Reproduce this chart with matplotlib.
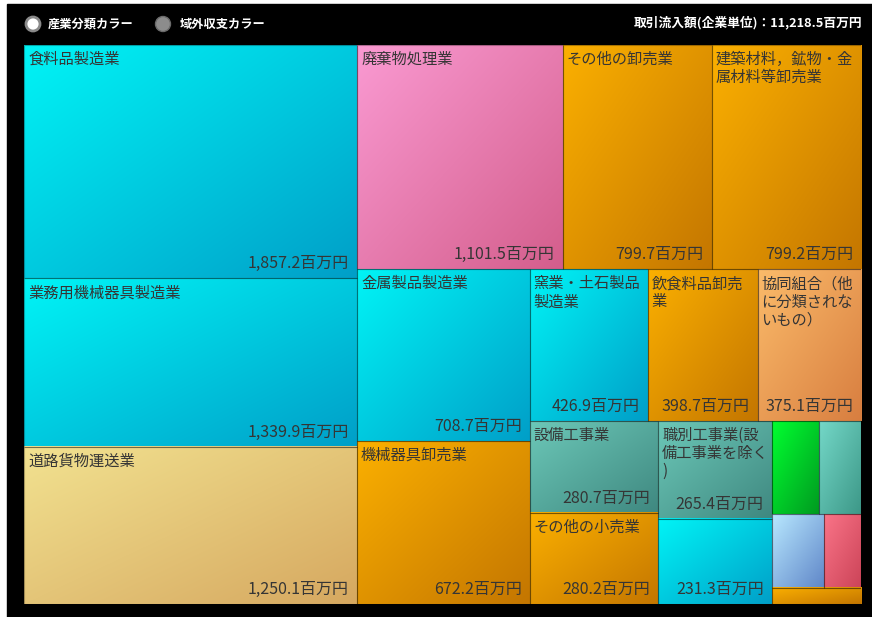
import numpy as np
import matplotlib.pyplot as plt
from matplotlib.patches import Rectangle, Circle
from matplotlib.colors import to_rgb

plt.rcParams['font.family'] = ['Noto Sans CJK JP', 'DejaVu Sans']

# data (百万円)
industries = ['食料品製造業', '業務用機械器具製造業', '道路貨物運送業', '廃棄物処理業',
              'その他の卸売業', '建築材料，鉱物・金属材料等卸売業', '金属製品製造業',
              '機械器具卸売業', '窯業・土石製品製造業', '飲食料品卸売業',
              '協同組合（他に分類されないもの）', '設備工事業', 'その他の小売業',
              '職別工事業(設備工事業を除く)', '', '', '', '', '', '']
values = [1857.2, 1339.9, 1250.1, 1101.5, 799.7, 799.2, 708.7, 672.2, 426.9, 398.7,
          375.1, 280.7, 280.2, 265.4, 231.3, 105.0, 93.0, 92.0, 65.0, 35.0]
groups = ['mfg', 'mfg', 'transport', 'waste', 'trade', 'trade', 'mfg', 'trade', 'mfg',
          'trade', 'coop', 'construction', 'trade', 'construction', 'mfg', 'agri',
          'service', 'info', 'medical', 'trade']
total_inflow = 11218.5
legend_items = ['産業分類カラー', '域外収支カラー']

# gradient colours per industry group (top-left, bottom-right)
palette = {
    'mfg': ('#00f4f6', '#009fc8'),
    'transport': ('#f2e290', '#d6a860'),
    'waste': ('#fa9ad2', '#d45e8c'),
    'trade': ('#fbb000', '#c47600'),
    'coop': ('#fbbb6a', '#d87e40'),
    'construction': ('#6cc8b8', '#3f8880'),
    'agri': ('#00ff30', '#009a20'),
    'service': ('#74d8c8', '#3d9888'),
    'info': ('#b8e8ff', '#5f86c8'),
    'medical': ('#fa7488', '#cc4458'),
}

PHI = (1 + 5 ** 0.5) / 2


def squarify(vals, x0, y0, x1, y1, ratio=PHI):
    # same idea as d3.treemapSquarify
    rects = []
    value = sum(vals)
    n = len(vals)
    i0 = 0
    while i0 < n:
        dx, dy = x1 - x0, y1 - y0
        i1 = i0 + 1
        sum_v = min_v = max_v = vals[i0]
        alpha = max(dy / dx, dx / dy) / (value * ratio)
        beta = sum_v * sum_v * alpha
        min_ratio = max(max_v / beta, beta / min_v)
        while i1 < n:
            v = vals[i1]
            s = sum_v + v
            mn, mx = min(min_v, v), max(max_v, v)
            beta = s * s * alpha
            new_ratio = max(mx / beta, beta / mn)
            if new_ratio > min_ratio:
                break
            sum_v, min_v, max_v, min_ratio = s, mn, mx, new_ratio
            i1 += 1
        row = vals[i0:i1]
        if dx < dy:
            h = dy * sum_v / value
            xx = x0
            for v in row:
                w = dx * v / sum_v
                rects.append((xx, y0, w, h))
                xx += w
            y0 += h
        else:
            w = dx * sum_v / value
            yy = y0
            for v in row:
                h = dy * v / sum_v
                rects.append((x0, yy, w, h))
                yy += h
            x0 += w
        value -= sum_v
        i0 = i1
    return rects


def wrap(text, width):
    n = max(1, int((width - 8) // 15))
    return '\n'.join(text[i:i + n] for i in range(0, len(text), n))


def gradient(c1, c2, size=64):
    a, b = np.array(to_rgb(c1)), np.array(to_rgb(c2))
    u = np.linspace(0, 1, size)
    t = (u[None, :] + u[:, None]) / 2
    return a[None, None, :] * (1 - t[..., None]) + b[None, None, :] * t[..., None]


W, H = 872, 617
fig = plt.figure(figsize=(W / 100, H / 100), dpi=100, facecolor='white')

# background / header layer in pixel units
bg = fig.add_axes([0, 0, 1, 1])
bg.set_xlim(0, W)
bg.set_ylim(H, 0)
bg.axis('off')
bg.add_patch(Rectangle((7, 4), W, H, color='black'))
bg.add_patch(Circle((33, 24), 7, facecolor='white', edgecolor='#8a8a8a', lw=2))
bg.text(48, 24, legend_items[0], color='white', fontsize=8.8, va='center', ha='left',
        fontweight='bold')
bg.add_patch(Circle((163, 24), 7.5, facecolor='#8c8c8c', edgecolor='#6a6a6a', lw=1))
bg.text(180, 24, legend_items[1], color='white', fontsize=8.8, va='center', ha='left',
        fontweight='bold')
bg.text(862, 22, f'取引流入額(企業単位)：{total_inflow:,.1f}百万円', color='white',
        fontsize=9.2, va='center', ha='right', fontweight='bold')

# treemap
TW, TH = 837, 559
ax = fig.add_axes([24 / W, (H - 604) / H, TW / W, TH / H])
rects = squarify(values, 0, 0, TW, TH)
for (x, y, w, h), name, v, g in zip(rects, industries, values, groups):
    c1, c2 = palette[g]
    ax.imshow(gradient(c1, c2), extent=(x, x + w, y + h, y), aspect='auto',
              interpolation='bilinear', zorder=1)
    ax.add_patch(Rectangle((x, y), w, h, fill=False, edgecolor=(0, 0, 0, 0.3),
                           lw=0.8, zorder=2))
    if w < 60 or h < 40:
        continue
    if name:
        ax.text(x + 4, y + 6, wrap(name, w), ha='left', va='top', fontsize=11,
                color='#353535', linespacing=1.08, zorder=3)
    ax.text(x + w - 8, y + h - 6, f'{v:,.1f}百万円', ha='right', va='bottom',
            fontsize=11.5, color='#353535', zorder=3)

ax.set_xlim(0, TW)
ax.set_ylim(TH, 0)
ax.axis('off')

plt.savefig('out.png', dpi=100, facecolor='white')
